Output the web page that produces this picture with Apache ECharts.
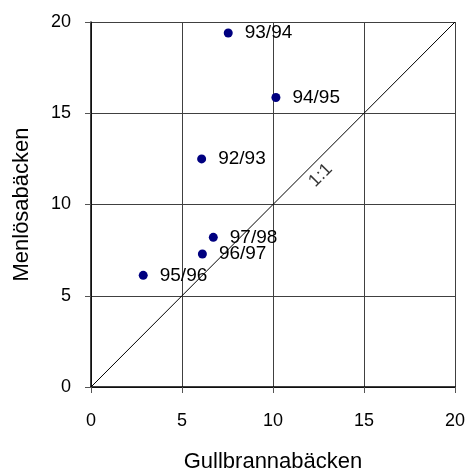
<!DOCTYPE html>
<html>
<head>
<meta charset="utf-8">
<script src="https://cdn.jsdelivr.net/npm/echarts@6/dist/echarts.min.js"></script>
<style>
html,body{margin:0;padding:0;background:#fff;}
#c{width:469px;height:470px;}
</style>
</head>
<body>
<div id="c"></div>
<script>
const seasons = ['92/93','93/94','94/95','95/96','96/97','97/98'];
const gullbranna = [6.08, 7.54, 10.16, 2.87, 6.12, 6.72];
const menlosa = [12.5, 19.4, 15.86, 6.12, 7.29, 8.2];
const ticks = [0, 5, 10, 15, 20];
const oneToOne = [[0,0],[20,20]];
const oneToOneLabel = [[12.62, 11.6]];

const FONT = 'Liberation Sans, Arial, sans-serif';
const chart = echarts.init(document.getElementById('c'), null, {renderer:'canvas'});
function mkAxis(name, gap, margin){
  return {
    type:'value', min: ticks[0], max: ticks[ticks.length-1], interval: 5,
    name:name, nameLocation:'middle', nameGap:gap,
    nameTextStyle:{fontFamily:FONT, fontSize:22, color:'#000'},
    axisLine:{show:true, onZero:false, lineStyle:{color:'#000', width:1.5}},
    axisTick:{show:true, inside:false, length:6, lineStyle:{color:'#555', width:1}},
    axisLabel:{fontFamily:FONT, fontSize:18, color:'#000', margin:margin},
    splitLine:{show:true, lineStyle:{color:'#404040', width:1}}
  };
}
chart.setOption({
  animation:false,
  backgroundColor:'#fff',
  grid:{left:91, top:22, right:14, bottom:83, outerBoundsMode:'none', containLabel:false},
  xAxis: mkAxis('Gullbrannabäcken', 64, 25),
  yAxis: mkAxis('Menlösabäcken', 58, 20),
  series:[
    {type:'line', data:oneToOne, symbol:'none', lineStyle:{color:'#000', width:1}, silent:true, z:1},
    {type:'scatter', data:oneToOneLabel, symbolSize:0, silent:true,
     label:{show:true, position:'inside', formatter:'1:1', rotate:45, fontFamily:FONT, fontSize:18, color:'#000'}},
    {type:'scatter', symbol:'circle', symbolSize:9, itemStyle:{color:'#000080', opacity:1}, z:3,
     data: seasons.map((s,i)=>({value:[gullbranna[i], menlosa[i]], name:s})),
     label:{show:true, position:'right', distance:12, formatter:p=>p.name, fontFamily:FONT, fontSize:19, color:'#000'}}
  ]
});
</script>
</body>
</html>
